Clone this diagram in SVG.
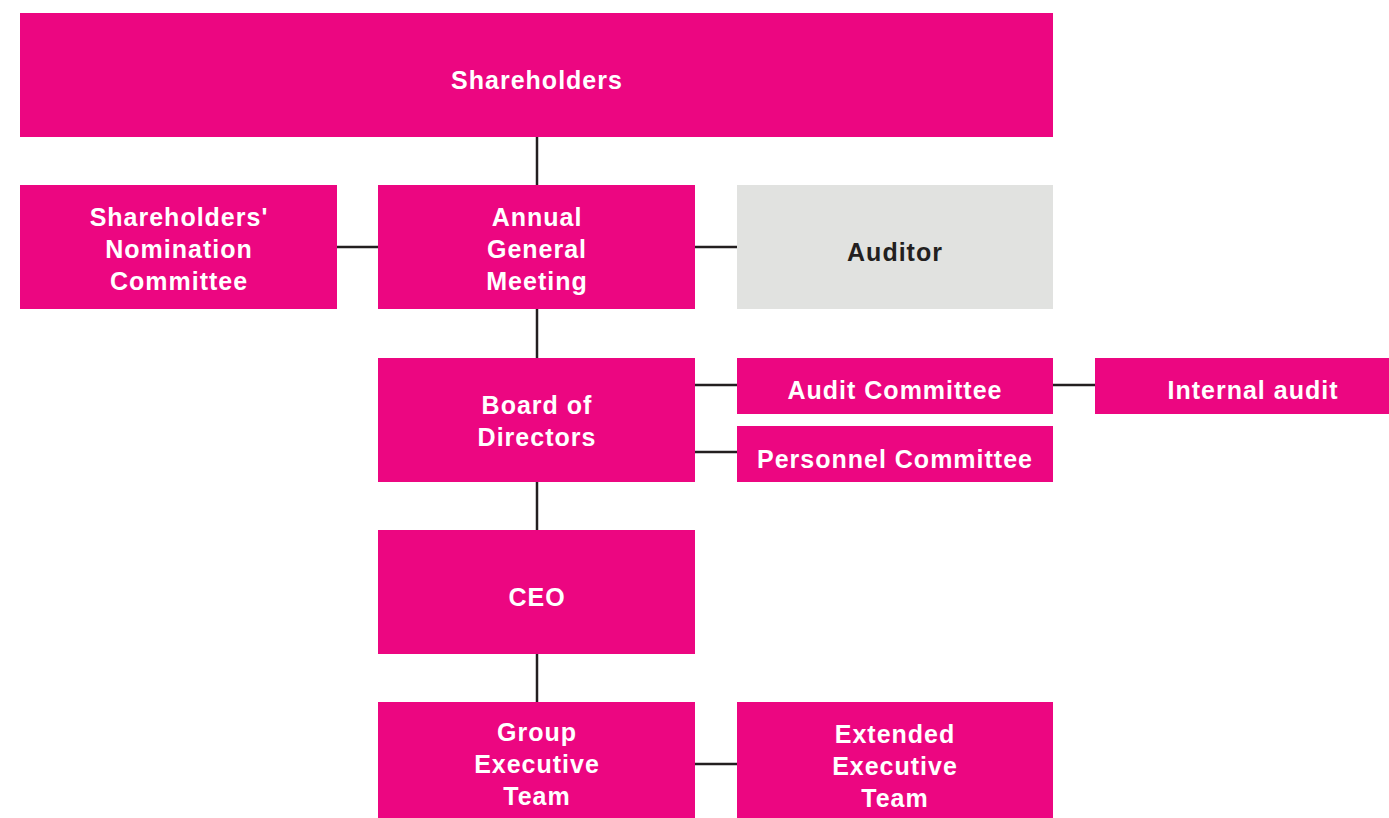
<svg xmlns="http://www.w3.org/2000/svg" width="1389" height="818" viewBox="0 0 1389 818">
<style>
.n{fill:#EC0681}
.g{fill:#E1E2E0}
text{font-family:"Liberation Sans",Arial,sans-serif;font-weight:bold;font-size:25px;fill:#fff;text-anchor:middle;letter-spacing:1px}
.d{fill:#231F20}
.c line{stroke:#231F20;stroke-width:2.5}
</style>
<rect width="1389" height="818" fill="#fff"/>
<g class="c">
<line x1="537" y1="137" x2="537" y2="185"/>
<line x1="537" y1="309" x2="537" y2="358"/>
<line x1="537" y1="482" x2="537" y2="530"/>
<line x1="537" y1="654" x2="537" y2="702"/>
<line x1="337" y1="247" x2="378" y2="247"/>
<line x1="695" y1="247" x2="737" y2="247"/>
<line x1="695" y1="385" x2="737" y2="385"/>
<line x1="695" y1="452" x2="737" y2="452"/>
<line x1="1053" y1="385" x2="1095" y2="385"/>
<line x1="695" y1="764" x2="737" y2="764"/>
</g>
<g id="shareholders"><rect class="n" x="20" y="13" width="1033" height="124"/><text x="537" y="89">Shareholders</text></g>
<g id="nomination"><rect class="n" x="20" y="185" width="317" height="124"/><text x="179" y="226">Shareholders'</text><text x="179" y="258">Nomination</text><text x="179" y="290">Committee</text></g>
<g id="agm"><rect class="n" x="378" y="185" width="317" height="124"/><text x="537" y="226">Annual</text><text x="537" y="258">General</text><text x="537" y="290">Meeting</text></g>
<g id="auditor"><rect class="g" x="737" y="185" width="316" height="124"/><text class="d" x="895" y="261">Auditor</text></g>
<g id="board"><rect class="n" x="378" y="358" width="317" height="124"/><text x="537" y="414">Board of</text><text x="537" y="446">Directors</text></g>
<g id="audit-committee"><rect class="n" x="737" y="358" width="316" height="56"/><text x="895" y="399">Audit Committee</text></g>
<g id="internal-audit"><rect class="n" x="1095" y="358" width="294" height="56"/><text x="1253" y="399">Internal audit</text></g>
<g id="personnel"><rect class="n" x="737" y="426" width="316" height="56"/><text x="895" y="468">Personnel Committee</text></g>
<g id="ceo"><rect class="n" x="378" y="530" width="317" height="124"/><text x="537" y="606">CEO</text></g>
<g id="get"><rect class="n" x="378" y="702" width="317" height="116"/><text x="537" y="741">Group</text><text x="537" y="773">Executive</text><text x="537" y="805">Team</text></g>
<g id="eet"><rect class="n" x="737" y="702" width="316" height="116"/><text x="895" y="743">Extended</text><text x="895" y="775">Executive</text><text x="895" y="807">Team</text></g>
</svg>
